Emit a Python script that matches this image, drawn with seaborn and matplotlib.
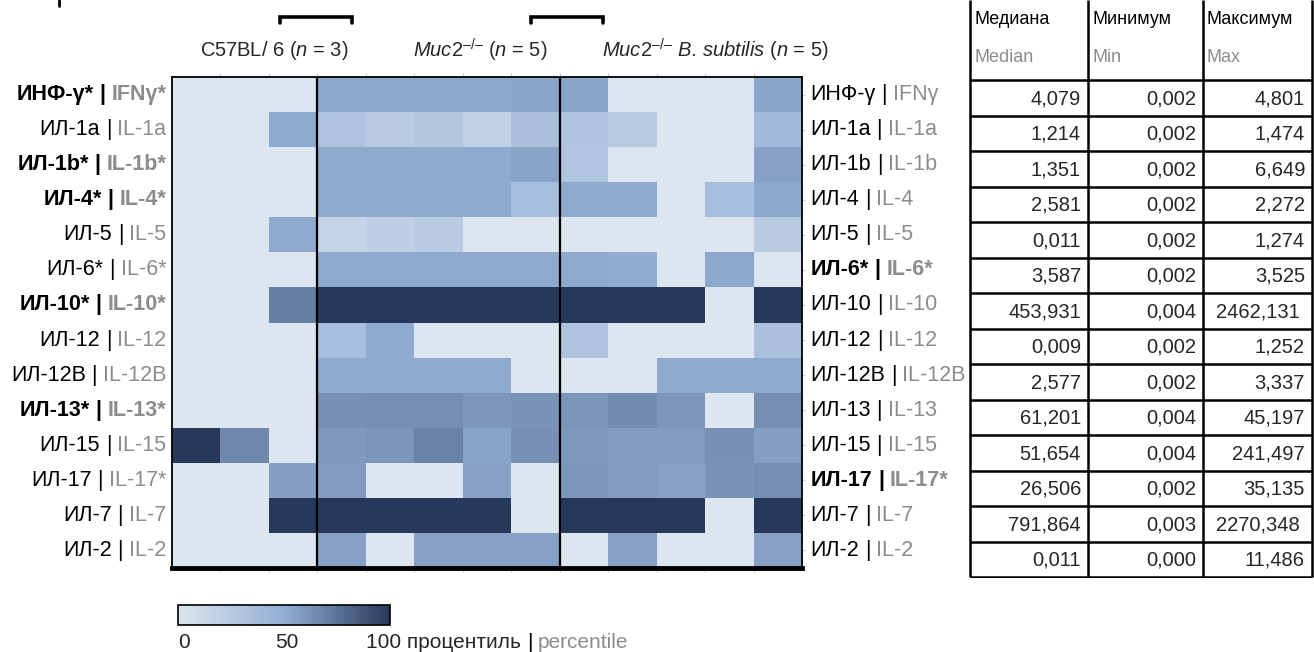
import numpy as np
import pandas as pd
import matplotlib
matplotlib.use("Agg")
import matplotlib.pyplot as plt
import seaborn as sns
from matplotlib.colors import LinearSegmentedColormap
from matplotlib.lines import Line2D

sns.set_theme(style="white")
plt.rcParams["font.family"] = ["Liberation Sans", "DejaVu Sans"]
plt.rcParams["mathtext.fontset"] = "custom"
plt.rcParams["mathtext.rm"] = "Liberation Sans"
plt.rcParams["mathtext.it"] = "Liberation Sans:italic"
plt.rcParams["mathtext.bf"] = "Liberation Sans:bold"

# ---------------- data ----------------
left_ru = ["ИНФ-γ*", "ИЛ-1a", "ИЛ-1b*", "ИЛ-4*", "ИЛ-5", "ИЛ-6*", "ИЛ-10*",
           "ИЛ-12", "ИЛ-12В", "ИЛ-13*", "ИЛ-15", "ИЛ-17", "ИЛ-7", "ИЛ-2"]
left_en = ["IFNγ*", "IL-1a", "IL-1b*", "IL-4*", "IL-5", "IL-6*", "IL-10*",
           "IL-12", "IL-12B", "IL-13*", "IL-15", "IL-17*", "IL-7", "IL-2"]
left_bold = [True, False, True, True, False, False, True,
             False, False, True, False, False, False, False]

right_ru = ["ИНФ-γ", "ИЛ-1a", "ИЛ-1b", "ИЛ-4", "ИЛ-5", "ИЛ-6*", "ИЛ-10",
            "ИЛ-12", "ИЛ-12В", "ИЛ-13", "ИЛ-15", "ИЛ-17", "ИЛ-7", "ИЛ-2"]
right_en = ["IFNγ", "IL-1a", "IL-1b", "IL-4", "IL-5", "IL-6*", "IL-10",
            "IL-12", "IL-12B", "IL-13", "IL-15", "IL-17*", "IL-7", "IL-2"]
right_bold = [False, False, False, False, False, True, False,
              False, False, False, False, True, False, False]

samples = ["C1", "C2", "C3", "M1", "M2", "M3", "M4", "M5",
           "B1", "B2", "B3", "B4", "B5"]

pct_ifng  = [0, 0, 0, 53, 53, 53, 53, 54, 54, 0, 0, 0, 54]
pct_il1a  = [0, 0, 52, 32, 25, 29, 19, 35, 32, 26, 0, 0, 40]
pct_il1b  = [0, 0, 0, 52, 52, 52, 52, 55, 30, 0, 0, 0, 56]
pct_il4   = [0, 0, 0, 52, 52, 52, 52, 36, 52, 52, 0, 36, 53]
pct_il5   = [0, 0, 52, 16, 20, 24, 0, 0, 0, 0, 0, 0, 24]
pct_il6   = [0, 0, 0, 52, 52, 52, 52, 52, 52, 51, 0, 53, 0]
pct_il10  = [0, 0, 70, 100, 100, 100, 100, 100, 100, 100, 100, 0, 100]
pct_il12  = [0, 0, 0, 36, 52, 0, 0, 0, 32, 0, 0, 0, 34]
pct_il12b = [0, 0, 0, 52, 52, 52, 52, 0, 0, 0, 52, 52, 52]
pct_il13  = [0, 0, 0, 63, 64, 64, 60, 62, 61, 66, 60, 0, 64]
pct_il15  = [100, 67, 0, 59, 61, 69, 55, 63, 59, 58, 58, 63, 57]
pct_il17  = [0, 0, 57, 58, 0, 0, 56, 0, 60, 58, 56, 62, 64]
pct_il7   = [0, 0, 100, 100, 100, 100, 100, 0, 100, 100, 100, 0, 100]
pct_il2   = [0, 0, 0, 56, 0, 56, 56, 56, 0, 56, 0, 0, 56]

median_vals = [4.079, 1.214, 1.351, 2.581, 0.011, 3.587, 453.931,
               0.009, 2.577, 61.201, 51.654, 26.506, 791.864, 0.011]
min_vals = [0.002, 0.002, 0.002, 0.002, 0.002, 0.002, 0.004,
            0.002, 0.002, 0.004, 0.004, 0.002, 0.003, 0.000]
max_vals = [4.801, 1.474, 6.649, 2.272, 1.274, 3.525, 2462.131,
            1.252, 3.337, 45.197, 241.497, 35.135, 2270.348, 11.486]

header_ru = ["Медиана", "Минимум", "Максимум"]
header_en = ["Median", "Min", "Max"]

groups = ["C57BL/ 6 ($\\it{n}$ = 3)",
          "$\\it{Muc2}^{–/–}$ ($\\it{n}$ = 5)",
          "$\\it{Muc2}^{–/–}$ $\\it{B.}\\,\\it{subtilis}$ ($\\it{n}$ = 5)"]

cbar_ticks = [0, 50, 100]
cbar_label_ru = "процентиль"
cbar_label_en = "percentile"

matrix = np.array([pct_ifng, pct_il1a, pct_il1b, pct_il4, pct_il5, pct_il6,
                   pct_il10, pct_il12, pct_il12b, pct_il13, pct_il15,
                   pct_il17, pct_il7, pct_il2], dtype=float)
df = pd.DataFrame(matrix, index=right_en, columns=samples)

# ---------------- figure ----------------
W, H = 1314, 652
fig = plt.figure(figsize=(W / 100, H / 100), dpi=100)


def fx(px):
    return px / W


def fy(py):
    return 1 - py / H


GRAY = "#8c8c8c"
FS = 15.5
GFS = 14.5
SP = 4.2

cmap = LinearSegmentedColormap.from_list(
    "pct", [(0.0, "#dce5f0"), (0.5, "#93afd4"), (1.0, "#27395b")])

hx0, hx1, hy0, hy1 = 172, 802, 77, 568
ax = fig.add_axes([fx(hx0), fy(hy1), fx(hx1 - hx0), (hy1 - hy0) / H])
cax = fig.add_axes([fx(178), fy(625), fx(212), 20 / H])

sns.heatmap(df, ax=ax, cmap=cmap, vmin=0, vmax=100, cbar_ax=cax,
            cbar_kws={"orientation": "horizontal"},
            xticklabels=False, yticklabels=False)

for name, sp in ax.spines.items():
    sp.set_visible(True)
    sp.set_color("black")
    sp.set_linewidth(1.3)
ax.spines["bottom"].set_linewidth(3.5)
ax.axvline(3, color="black", lw=1.6)
ax.axvline(8, color="black", lw=1.6)

ncol = len(samples)
nrow = len(right_en)
ax.set_xticks(np.arange(1, ncol))
ax.set_xticklabels([])
ax.tick_params(axis="x", which="major", bottom=True, top=True, length=3,
               color="#c8c8c8", width=0.8)
ax.yaxis.tick_right()
ax.set_yticks(np.arange(nrow) + 0.5)
ax.set_yticklabels([])
ax.tick_params(axis="y", which="major", right=True, left=False, length=2,
               color="#c8c8c8", width=0.8)
ax.set_xlabel("")
ax.set_ylabel("")

# colorbar
cax.set_xticks([])
cax.set_yticks([])
cbar = ax.collections[0].colorbar
cbar.outline.set_visible(True)
cbar.outline.set_edgecolor("black")
cbar.outline.set_linewidth(1.2)

# left labels (right aligned, gray English then black Russian)
for i in range(nrow):
    w = "bold" if left_bold[i] else "normal"
    t_en = ax.text(-0.12, i + 0.5, left_en[i], ha="right", va="center",
                   color=GRAY, fontsize=FS, fontweight=w)
    t_bar = ax.annotate("|", xy=(0, 0.5), xycoords=t_en, xytext=(-SP, 0),
                        textcoords="offset points", ha="right", va="center",
                        color="black", fontsize=FS, fontweight=w)
    ax.annotate(left_ru[i], xy=(0, 0.5), xycoords=t_bar, xytext=(-SP, 0),
                textcoords="offset points", ha="right", va="center",
                color="black", fontsize=FS, fontweight=w)

# right labels
for i in range(nrow):
    w = "bold" if right_bold[i] else "normal"
    t_ru = ax.text(ncol + 0.17, i + 0.5, right_ru[i], ha="left", va="center",
                   color="black", fontsize=FS, fontweight=w)
    t_bar = ax.annotate("|", xy=(1, 0.5), xycoords=t_ru, xytext=(SP, 0),
                        textcoords="offset points", ha="left", va="center",
                        color="black", fontsize=FS, fontweight=w)
    ax.annotate(right_en[i], xy=(1, 0.5), xycoords=t_bar, xytext=(SP, 0),
                textcoords="offset points", ha="left", va="center",
                color=GRAY, fontsize=FS, fontweight=w)

# group titles
for gx, g in zip([274, 480, 715], groups):
    fig.text(fx(gx), fy(50), g, ha="center", va="center", fontsize=GFS)

# brackets
for bx0, bx1 in [(280, 352), (531, 603)]:
    fig.add_artist(Line2D([fx(bx0), fx(bx0), fx(bx1), fx(bx1)],
                          [fy(23), fy(17), fy(17), fy(23)],
                          transform=fig.transFigure, color="black", lw=2.6,
                          solid_joinstyle="miter"))
fig.add_artist(Line2D([fx(59), fx(59)], [fy(0), fy(6)],
                      transform=fig.transFigure, color="black", lw=2))

# colorbar labels
CFS = 15
ty = fy(642)
fig.text(fx(184), ty, str(cbar_ticks[0]), ha="center", va="center", fontsize=CFS)
fig.text(fx(287), ty, str(cbar_ticks[1]), ha="center", va="center", fontsize=CFS)
t100 = fig.text(fx(366), ty, f"{cbar_ticks[2]} {cbar_label_ru}", ha="left",
                va="center", fontsize=CFS)
t_bar = ax.annotate("|", xy=(1, 0.5), xycoords=t100, xytext=(SP, 0),
                    textcoords="offset points", ha="left", va="center",
                    fontsize=CFS, color="black", annotation_clip=False)
ax.annotate(cbar_label_en, xy=(1, 0.5), xycoords=t_bar, xytext=(SP, 0),
            textcoords="offset points", ha="left", va="center",
            fontsize=CFS, color=GRAY, annotation_clip=False)

# table
tx0, tx1, ty1 = 968, 1314, 578
tax = fig.add_axes([fx(tx0), fy(ty1), fx(tx1 - tx0), ty1 / H])
tax.set_xlim(tx0, tx1)
tax.set_ylim(ty1, 0)
tax.axis("off")
col_edges = [970, 1088, 1203, 1312]
row_top = 80
row_h = (577 - row_top) / nrow
tax.vlines(col_edges, 0, 577, color="black", lw=1.8)
tax.hlines([row_top + k * row_h for k in range(nrow + 1)], col_edges[0],
           col_edges[-1], color="black", lw=1.8)

HFS = 13
TFS = 14.5
for j in range(3):
    tax.text(col_edges[j] + 4, 20, header_ru[j], ha="left", va="center",
             fontsize=HFS, color="black")
    tax.text(col_edges[j] + 4, 57, header_en[j], ha="left", va="center",
             fontsize=HFS, color=GRAY)


def fmt(v):
    return f"{v:.3f}".replace(".", ",")


for i in range(nrow):
    yc = row_top + (i + 0.5) * row_h + 1
    for j, arr in enumerate([median_vals, min_vals, max_vals]):
        s = fmt(arr[i])
        if len(s) >= 8:
            tax.text((col_edges[j] + col_edges[j + 1]) / 2, yc, s,
                     ha="center", va="center", fontsize=TFS)
        else:
            tax.text(col_edges[j + 1] - 7, yc, s, ha="right", va="center",
                     fontsize=TFS)

fig.savefig("out.png", dpi=100)
